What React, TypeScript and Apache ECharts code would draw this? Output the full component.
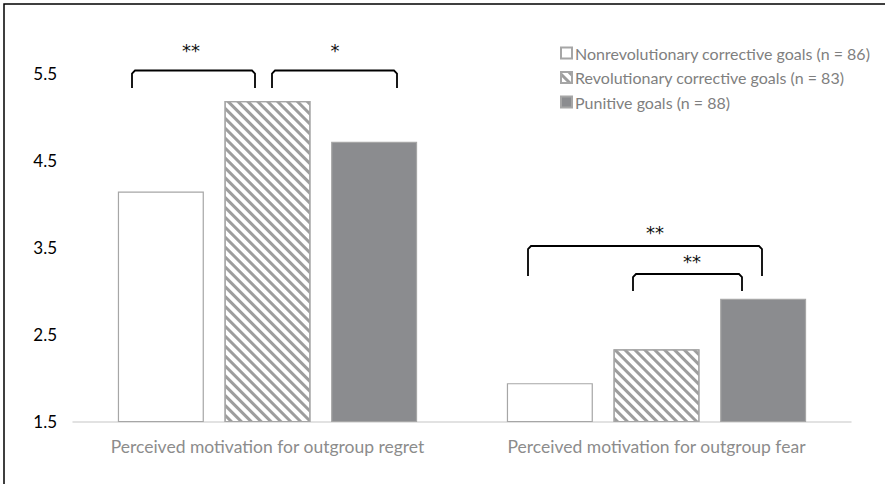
import React, { useEffect, useRef } from "react";
import * as echarts from "echarts";

const categories = [
  "Perceived motivation for outgroup regret",
  "Perceived motivation for outgroup fear",
];
const seriesNames = [
  "Nonrevolutionary corrective goals (n = 86)",
  "Revolutionary corrective goals (n = 83)",
  "Punitive goals (n = 88)",
];
const nonrevolutionary = [4.14, 1.94];
const revolutionary = [5.18, 2.33];
const punitive = [4.71, 2.91];
const yTicks = [1.5, 2.5, 3.5, 4.5, 5.5];

const FONT = "Lato";

export default function App() {
  const ref = useRef<HTMLDivElement>(null);
  useEffect(() => {
    if (!ref.current) return;
    const chart = echarts.init(ref.current, null, { renderer: "svg" });

    const bracket = (x1: number, x2: number, yTop: number, yBot: number) => ({
      type: "polyline",
      shape: {
        points: [
          [x1, yBot],
          [x1, yTop + 3],
          [x1 + 3, yTop],
          [x2 - 3, yTop],
          [x2, yTop + 3],
          [x2, yBot],
        ],
      },
      style: { stroke: "#000", lineWidth: 1.8, fill: null },
      z: 10,
    });
    const stars = (x: number, y: number, t: string) => ({
      type: "text",
      x,
      y,
      style: {
        text: t,
        fill: "#111",
        fontFamily: "DejaVu Sans",
        fontSize: 18,
        align: "center",
        verticalAlign: "middle",
      },
      z: 10,
    });

    chart.setOption({
      animation: false,
      backgroundColor: "#fff",
      grid: { left: 73, right: 34, top: 29.5, bottom: 62.5, containLabel: false },
      legend: {
        orient: "vertical",
        left: 555,
        top: 40,
        itemWidth: 11,
        itemHeight: 11,
        itemGap: 8.5,
        icon: "rect",
        textStyle: {
          fontFamily: FONT,
          fontSize: 16,
          lineHeight: 16,
          color: "#7f7f7f",
          padding: [0, 0, 0, -2],
        },
        data: seriesNames,
      },
      xAxis: {
        type: "category",
        data: categories,
        axisLine: { lineStyle: { color: "#d9d9d9", width: 1.5 } },
        axisTick: { show: false },
        axisLabel: {
          interval: 0,
          fontFamily: FONT,
          fontSize: 17.5,
          color: "#8c8c8c",
          margin: 16,
        },
      },
      yAxis: {
        type: "value",
        min: 1.5,
        max: 6,
        interval: 0.5,
        splitLine: { show: false },
        axisLine: { show: false },
        axisTick: { show: false },
        axisLabel: {
          fontFamily: FONT,
          fontSize: 17,
          color: "#000",
          margin: 16,
          formatter: (v: number) =>
            yTicks.some((t) => Math.abs(t - v) < 1e-6) ? v.toFixed(1) : "",
        },
      },
      series: [
        {
          name: seriesNames[0],
          type: "bar",
          data: nonrevolutionary,
          barWidth: 86,
          barGap: "24%",
          itemStyle: { color: "#ffffff", borderColor: "#a6a6a6", borderWidth: 1.2 },
        },
        {
          name: seriesNames[1],
          type: "bar",
          data: revolutionary,
          barWidth: 86,
          barGap: "24%",
          itemStyle: {
            color: "#ffffff",
            borderColor: "#a6a6a6",
            borderWidth: 1.2,
            decal: {
              symbol: "rect",
              symbolSize: 1,
              dashArrayX: [1, 0],
              dashArrayY: [3, 3.2],
              rotation: Math.PI / 4,
              color: "#9d9d9d",
            },
          },
        },
        {
          name: seriesNames[2],
          type: "bar",
          data: punitive,
          barWidth: 86,
          barGap: "24%",
          itemStyle: { color: "#8b8c8f", borderColor: "#a6a6a6", borderWidth: 1.2 },
        },
      ],
      graphic: [
        {
          type: "polyline",
          shape: { points: [[4, 490], [4, 4], [890, 4]] },
          style: { stroke: "#000", lineWidth: 1.5, fill: null },
        },
        bracket(132, 255, 70.5, 88),
        bracket(272, 397, 70.5, 88),
        stars(191, 50, "**"),
        stars(335, 50, "*"),
        bracket(528, 762, 246, 276),
        bracket(633, 742, 274, 291),
        stars(655, 232, "**"),
        stars(692, 261, "**"),
      ],
    });
    return () => chart.dispose();
  }, []);
  return (
    <div
      ref={ref}
      style={{ position: "fixed", left: 0, top: 0, width: 885, height: 484 }}
    />
  );
}
